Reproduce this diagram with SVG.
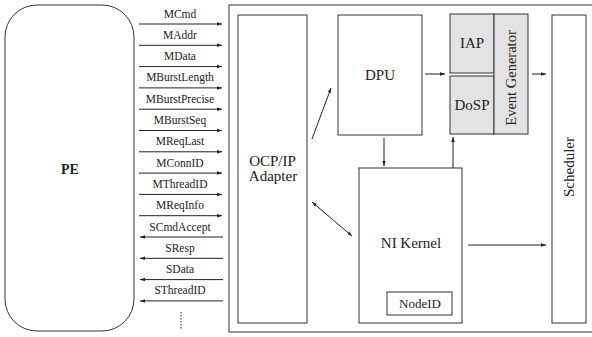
<svg xmlns="http://www.w3.org/2000/svg" width="592" height="337" viewBox="0 0 592 337">
<style>
.box{fill:#fff;stroke:#333;stroke-width:1}
.grey{fill:#e3e3e3;stroke:#333;stroke-width:1}
.ln{stroke:#222;stroke-width:1;fill:none}
text{font-family:'Liberation Serif','Times New Roman',Times,serif;fill:#222}
.sig{font-size:11.5px;text-anchor:middle}
.lbl{font-size:15px;text-anchor:middle}
</style>
<defs>
<marker id="ah" viewBox="0 0 10 10" refX="10" refY="5" markerWidth="5" markerHeight="5" orient="auto-start-reverse" markerUnits="userSpaceOnUse">
<path d="M0,1.5 L10,5 L0,8.5 z" fill="#222"/>
</marker>
</defs>
<rect width="592" height="337" fill="#fff"/>
<g id="pe">
<rect class="box" x="5" y="5" width="129" height="326" rx="32" ry="32"/>
<text x="70" y="174" font-size="14" font-weight="bold" text-anchor="middle">PE</text>
</g>
<g id="ni">
<rect class="box" x="229" y="5" width="370" height="327"/>
</g>
<g id="ocp">
<rect class="box" x="238" y="15" width="69" height="308"/>
<text class="lbl" x="272.5" y="166">OCP/IP</text>
<text class="lbl" x="273" y="181">Adapter</text>
</g>
<g id="dpu">
<rect class="box" x="338" y="15" width="84" height="120"/>
<text class="lbl" x="380" y="80">DPU</text>
</g>
<g id="iap">
<rect class="grey" x="450" y="14" width="44" height="59"/>
<text class="lbl" x="472" y="48">IAP</text>
</g>
<g id="dosp">
<rect class="grey" x="450" y="76" width="44" height="58"/>
<text class="lbl" x="472" y="110">DoSP</text>
</g>
<g id="evgen">
<rect class="grey" x="494" y="14" width="34" height="120"/>
<text class="lbl" transform="translate(516,78) rotate(-90)" style="font-size:14.5px">Event Generator</text>
</g>
<g id="nikernel">
<rect class="box" x="359" y="168" width="103" height="155"/>
<text class="lbl" x="411" y="248">NI Kernel</text>
</g>
<g id="nodeid">
<rect class="box" x="387" y="292" width="65" height="23"/>
<text class="lbl" x="420" y="308" style="font-size:13px">NodeID</text>
</g>
<g id="scheduler">
<rect class="box" x="552" y="15" width="34" height="308"/>
<text class="lbl" transform="translate(574,167) rotate(-90)">Scheduler</text>
</g>
<g id="connectors">
<g class="sig">
<text x="180" y="17.5">MCmd</text>
<text x="180" y="38.8">MAddr</text>
<text x="180" y="60.1">MData</text>
<text x="180" y="81.4">MBurstLength</text>
<text x="180" y="102.7">MBurstPrecise</text>
<text x="180" y="124">MBurstSeq</text>
<text x="180" y="145.3">MReqLast</text>
<text x="180" y="166.6">MConnID</text>
<text x="180" y="187.9">MThreadID</text>
<text x="180" y="209.2">MReqInfo</text>
<text x="180" y="230.5">SCmdAccept</text>
<text x="180" y="251.8">SResp</text>
<text x="180" y="273.1">SData</text>
<text x="180" y="294.4">SThreadID</text>
</g>
<g class="ln" marker-end="url(#ah)">
<line x1="139" y1="24" x2="222" y2="24"/>
<line x1="139" y1="45.3" x2="222" y2="45.3"/>
<line x1="139" y1="66.6" x2="222" y2="66.6"/>
<line x1="139" y1="87.9" x2="222" y2="87.9"/>
<line x1="139" y1="109.2" x2="222" y2="109.2"/>
<line x1="139" y1="130.5" x2="222" y2="130.5"/>
<line x1="139" y1="151.8" x2="222" y2="151.8"/>
<line x1="139" y1="173.1" x2="222" y2="173.1"/>
<line x1="139" y1="194.4" x2="222" y2="194.4"/>
<line x1="139" y1="215.7" x2="222" y2="215.7"/>
<line x1="223" y1="237" x2="140" y2="237"/>
<line x1="223" y1="258.3" x2="140" y2="258.3"/>
<line x1="223" y1="279.6" x2="140" y2="279.6"/>
<line x1="223" y1="300.9" x2="140" y2="300.9"/>
<line x1="312" y1="139" x2="331" y2="88"/>
<line x1="384" y1="138" x2="384" y2="166"/>
<line x1="425" y1="74" x2="445" y2="74"/>
<line x1="532" y1="74" x2="546" y2="74"/>
<line x1="453" y1="168" x2="453" y2="137"/>
<line x1="468" y1="245" x2="546" y2="245"/>
<line x1="312" y1="202" x2="352" y2="236" marker-start="url(#ah)"/>
</g>
<line x1="181" y1="312" x2="181" y2="329" stroke="#333" stroke-width="1" stroke-dasharray="1.5,1.5"/>
</g>
</svg>
